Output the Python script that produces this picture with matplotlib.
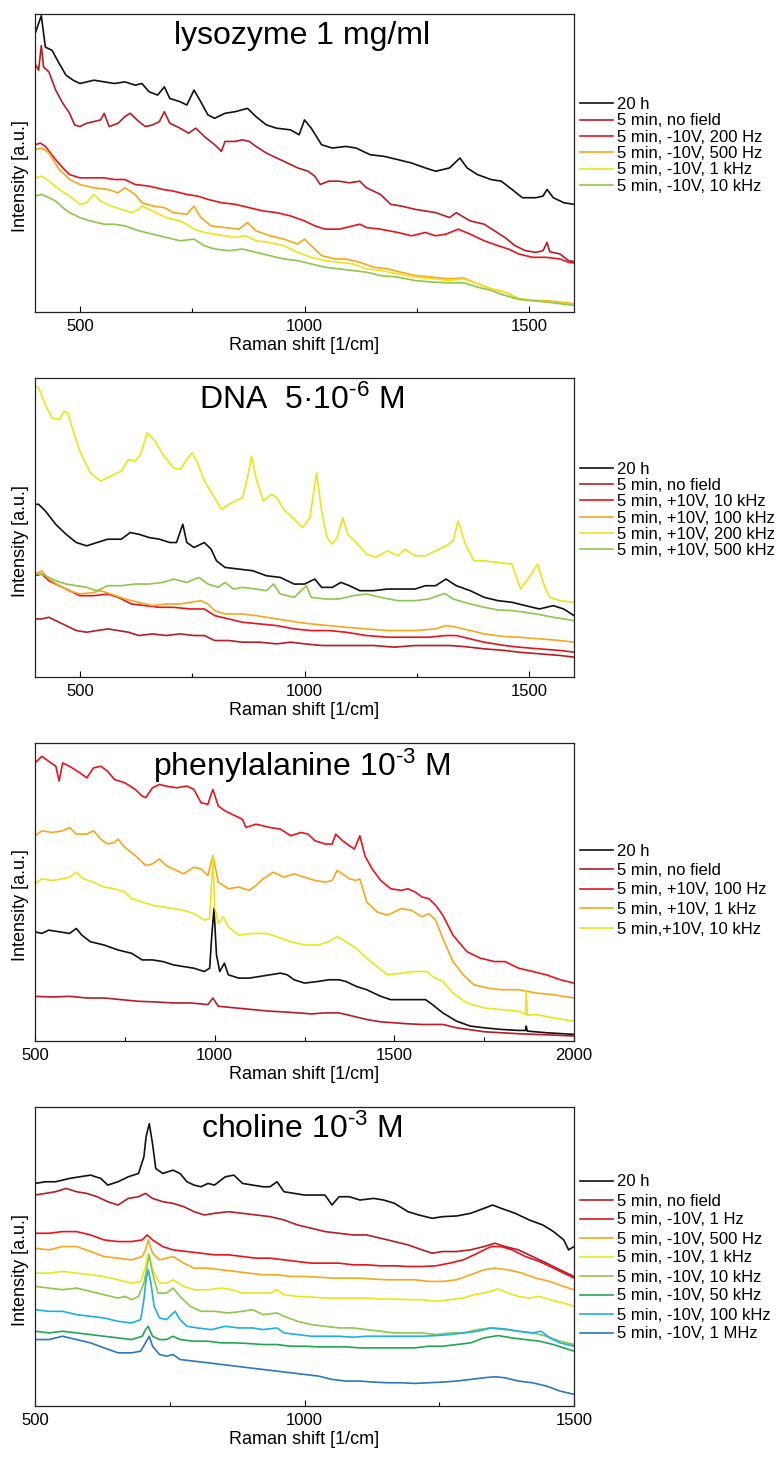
import matplotlib
matplotlib.use("Agg")
import matplotlib.pyplot as plt
from matplotlib.ticker import MultipleLocator

plt.rcParams["font.family"] = ["Liberation Sans", "DejaVu Sans"]
plt.rcParams["mathtext.fontset"] = "custom"
plt.rcParams["mathtext.rm"] = "Liberation Sans"
plt.rcParams["mathtext.default"] = "regular"

# ---------------- lysozyme 1 mg/ml ----------------
lys_x_20h = [400,414,423,438,454,469,485,500,531,554,577,600,623,638,654,673,688,700,723,738,754,769,785,800,823,846,873,892,915,938,969,988,1000,1015,1038,1062,1092,1115,1146,1177,1208,1238,1269,1292,1323,1346,1362,1385,1415,1438,1462,1485,1515,1531,1540,1554,1577,1600]
lys_y_20h = [840,895,800,790,750,715,700,690,700,695,690,695,685,690,665,655,680,645,635,625,670,635,595,585,600,605,615,590,565,555,550,535,580,555,505,495,500,495,475,470,460,450,435,425,435,465,435,415,400,395,370,345,345,350,370,345,330,325]

lys_x_nofield = [400,408,414,419,431,446,462,477,488,500,515,531,546,554,565,585,600,612,631,646,662,677,688,700,723,742,758,777,800,815,823,846,862,877,892,915,938,954,985,1008,1023,1035,1054,1077,1100,1123,1138,1169,1192,1215,1246,1269,1292,1323,1338,1350,1369,1400,1423,1446,1469,1492,1515,1531,1540,1546,1569,1588,1600]
lys_y_nofield = [750,730,805,740,725,670,630,600,565,560,570,575,580,600,560,570,590,600,575,560,565,575,605,570,555,540,555,530,505,485,515,515,520,515,500,480,465,455,435,425,410,385,395,395,390,395,375,355,325,320,310,305,300,285,300,290,275,265,245,225,200,185,180,185,210,182,175,155,152]

lys_x_200hz = [400,412,423,446,462,477,500,531,554,577,600,623,654,685,708,738,762,785,815,846,877,908,938,969,1000,1023,1046,1077,1108,1123,1138,1169,1208,1238,1269,1292,1315,1342,1369,1400,1431,1454,1477,1508,1538,1569,1588,1600]
lys_y_200hz = [505,510,500,460,435,415,405,405,405,400,400,385,380,370,365,355,350,340,330,325,315,305,300,290,275,260,250,250,260,265,255,250,240,230,240,230,235,250,235,215,200,190,175,165,165,160,150,148]

lys_x_500hz = [400,415,431,454,477,500,531,562,585,600,623,638,662,688,708,738,754,769,792,823,854,873,892,923,954,985,1000,1015,1038,1069,1092,1123,1154,1185,1215,1246,1285,1323,1354,1385,1415,1446,1477,1508,1538,1569,1600]
lys_y_500hz = [490,495,480,430,400,385,375,370,360,375,355,330,320,315,300,295,320,285,260,255,250,270,245,230,220,205,220,200,170,160,160,150,135,130,120,110,105,100,103,85,70,60,40,35,34,30,25]

lys_x_1khz = [400,415,431,454,477,500,515,531,546,569,592,615,631,638,654,669,692,708,731,754,777,800,823,846,869,892,923,954,985,1015,1046,1077,1108,1138,1169,1208,1246,1285,1323,1354,1385,1415,1446,1477,1508,1538,1569,1600]
lys_y_1khz = [405,410,395,370,350,325,330,355,335,320,310,300,310,320,310,300,285,280,270,250,240,235,230,225,230,215,210,200,180,165,155,150,145,130,125,115,105,100,95,100,85,70,60,40,35,32,28,22]

lys_x_10khz = [400,415,431,446,462,477,500,523,554,577,600,631,662,692,723,754,777,800,831,862,892,923,954,985,1015,1046,1077,1108,1138,1169,1208,1246,1285,1323,1354,1385,1415,1446,1477,1508,1538,1569,1600]
lys_y_10khz = [350,355,345,335,315,300,285,275,265,265,260,245,235,225,215,220,200,190,185,190,180,170,160,155,145,135,130,125,120,110,105,95,90,88,88,75,65,50,38,34,30,25,20]

# ---------------- DNA 5e-6 M ----------------
dna_x_20h = [400,408,423,446,469,492,515,538,562,592,612,631,654,677,700,715,729,738,754,777,792,804,823,854,885,915,946,977,1000,1023,1038,1062,1081,1100,1123,1154,1185,1215,1246,1269,1292,1315,1338,1369,1400,1431,1462,1492,1523,1554,1577,1600]
dna_y_20h = [520,520,500,460,430,405,395,405,415,415,435,430,420,415,405,405,460,405,390,405,385,350,330,325,320,305,300,280,280,295,270,270,285,275,260,260,265,265,265,275,275,295,275,260,240,230,225,215,205,215,205,185]

dna_x_nofield = [400,415,431,446,469,492,515,538,562,585,608,631,662,692,723,754,777,800,831,862,900,938,969,1000,1038,1077,1115,1154,1200,1246,1292,1323,1354,1400,1446,1477,1523,1569,1600]
dna_y_nofield = [175,175,180,170,155,140,135,140,145,140,135,125,130,125,130,125,125,110,110,105,105,100,105,100,95,95,95,95,90,95,95,95,92,85,80,75,70,65,60]

dna_x_10khz = [400,415,431,454,477,500,531,562,585,615,646,677,708,746,777,800,831,862,900,938,977,1015,1054,1092,1138,1185,1231,1277,1315,1338,1369,1400,1446,1477,1523,1569,1600]
dna_y_10khz = [305,310,290,275,260,245,245,250,240,220,215,210,210,205,205,185,175,165,160,155,145,140,140,135,125,120,120,120,125,125,115,105,95,90,85,80,75]

dna_x_100khz = [400,415,431,454,477,500,531,546,569,600,631,662,692,723,746,769,785,800,823,862,892,938,985,1015,1054,1092,1138,1185,1246,1292,1315,1338,1369,1400,1446,1477,1523,1569,1600]
dna_y_100khz = [310,320,295,275,260,250,255,260,250,235,225,215,220,220,225,230,220,200,190,190,185,175,165,160,155,150,145,140,140,145,155,150,140,130,122,120,115,110,105]

dna_x_200khz = [400,408,423,438,454,465,473,485,500,523,546,569,592,608,623,635,650,665,685,708,723,738,750,762,777,800,815,838,862,873,882,892,908,927,938,954,977,996,1012,1027,1038,1050,1062,1073,1085,1096,1115,1138,1158,1185,1208,1223,1246,1269,1292,1315,1331,1342,1358,1377,1400,1431,1462,1481,1500,1519,1535,1546,1569,1600]
dna_y_200khz = [875,870,820,780,775,800,795,740,680,615,590,605,620,655,650,670,735,715,670,630,625,655,675,645,590,540,505,525,540,600,665,600,530,550,540,505,475,450,480,615,500,420,400,420,480,430,405,370,360,380,365,385,365,365,380,395,410,470,400,350,350,345,340,265,300,340,270,240,230,225]

dna_x_500khz = [400,415,431,446,469,492,515,538,562,592,623,654,685,708,738,765,785,808,823,842,862,892,915,931,946,977,1004,1015,1046,1077,1108,1138,1169,1208,1246,1277,1312,1331,1369,1400,1431,1462,1492,1523,1554,1600]
dna_y_500khz = [310,310,300,290,280,275,270,260,275,275,280,280,285,295,285,300,280,270,285,265,270,265,260,280,250,240,275,240,235,235,245,250,240,230,230,235,252,235,220,210,202,200,195,188,180,170]

# ---------------- phenylalanine 1e-3 M ----------------
phe_x_20h = [500,519,538,567,596,615,630,654,692,731,769,798,827,856,885,913,942,971,986,992,998,1005,1014,1027,1038,1067,1096,1125,1154,1183,1202,1221,1250,1288,1317,1346,1365,1394,1423,1462,1490,1519,1558,1587,1606,1635,1673,1712,1750,1798,1846,1865,1867,1870,1923,2000]
phe_y_20h = [330,325,335,330,325,340,320,300,290,275,265,245,245,240,230,225,220,210,220,320,400,260,210,235,200,190,190,195,200,205,200,185,175,180,185,185,180,165,155,135,125,125,125,125,110,85,60,45,40,35,32,32,45,30,25,20]

phe_x_nofield = [500,548,596,644,692,740,788,837,885,933,981,995,1010,1058,1106,1154,1192,1231,1269,1308,1346,1385,1423,1462,1500,1538,1577,1606,1635,1673,1712,1750,1798,1846,1894,1942,2000]
phe_y_nofield = [135,133,135,130,130,125,120,118,115,115,110,130,105,100,95,90,88,85,82,85,85,75,65,58,55,52,50,50,50,40,34,28,25,22,20,18,15]

phe_x_100hz = [500,519,538,558,567,577,596,625,644,663,683,702,721,750,779,798,808,827,846,865,894,923,942,962,981,995,1010,1029,1048,1077,1087,1115,1154,1183,1212,1240,1260,1279,1308,1327,1337,1356,1375,1389,1404,1418,1438,1462,1490,1519,1538,1558,1577,1596,1615,1635,1663,1702,1740,1779,1808,1846,1885,1923,1962,2000]
phe_y_100hz = [840,860,845,830,785,840,830,810,795,825,830,815,790,780,760,740,735,765,775,770,765,770,760,720,715,760,710,695,685,670,645,655,645,640,620,630,625,605,595,595,625,605,590,580,620,560,520,485,460,455,460,450,435,430,410,380,320,270,250,240,240,220,210,200,185,175]

phe_x_1khz = [500,519,548,577,596,615,644,663,683,702,721,731,750,779,808,827,846,865,894,913,942,962,981,995,1010,1038,1067,1096,1115,1135,1163,1192,1221,1250,1279,1308,1327,1341,1356,1375,1394,1404,1423,1452,1481,1519,1548,1577,1596,1615,1635,1663,1692,1721,1760,1798,1846,1894,1942,2000]
phe_y_1khz = [620,635,630,635,645,625,625,635,610,595,600,610,585,560,530,535,550,530,515,505,525,520,500,560,480,460,465,455,470,490,510,495,505,495,485,480,485,515,505,490,485,490,420,390,380,400,395,375,385,365,310,240,200,170,160,155,155,145,140,130]

phe_x_10khz = [500,519,548,577,596,615,635,663,692,721,750,769,798,827,856,885,913,942,971,986,995,1000,1010,1024,1038,1067,1106,1144,1173,1212,1250,1288,1317,1341,1365,1394,1423,1452,1481,1519,1558,1591,1606,1635,1663,1702,1750,1798,1846,1865,1867,1870,1894,1942,2000]
phe_y_10khz = [475,490,485,490,495,510,490,480,465,460,450,430,420,410,405,400,395,385,365,370,555,405,355,375,345,320,325,325,315,300,290,290,300,315,300,280,250,225,200,205,210,210,195,180,145,115,100,95,90,80,155,78,80,70,60]

# ---------------- choline 1e-3 M ----------------
cho_x_20h = [500,519,538,564,583,603,622,635,654,673,692,702,706,712,718,724,737,756,769,782,795,808,821,833,853,869,885,904,923,936,949,962,981,1000,1019,1038,1051,1064,1083,1103,1128,1147,1167,1192,1212,1237,1256,1282,1308,1333,1349,1365,1391,1417,1442,1462,1481,1490,1500]
cho_y_20h = [670,675,675,685,690,695,685,665,675,690,700,750,810,850,790,715,700,710,700,675,665,660,670,665,690,695,670,665,660,660,675,645,640,635,635,635,605,630,630,620,625,620,610,585,575,565,570,572,580,595,605,595,580,560,545,525,500,470,480]

cho_x_nofield = [500,519,538,558,577,596,615,635,654,673,692,705,718,737,756,776,795,814,833,859,885,910,936,962,987,1013,1038,1064,1090,1115,1141,1167,1192,1218,1237,1256,1282,1308,1333,1353,1372,1397,1423,1449,1474,1500]
cho_y_nofield = [635,640,645,655,645,640,630,615,605,625,630,640,625,615,610,600,585,575,580,585,580,575,570,560,545,535,525,520,515,515,505,495,485,470,460,465,465,470,480,490,480,470,450,430,410,390]

cho_x_1hz = [500,526,551,577,603,628,654,679,699,708,718,737,756,782,808,833,859,885,910,936,962,987,1013,1038,1064,1090,1115,1141,1167,1192,1218,1244,1269,1295,1321,1346,1365,1385,1410,1436,1462,1481,1500]
cho_y_1hz = [520,520,525,525,515,500,495,495,500,515,500,480,470,465,460,455,455,450,445,445,440,435,430,430,430,425,425,422,422,420,420,422,430,440,460,480,480,470,450,435,415,400,385]

cho_x_500hz = [500,526,551,577,603,628,654,679,699,705,710,718,731,744,756,776,795,821,846,872,897,923,949,974,1000,1026,1051,1077,1103,1128,1154,1179,1205,1231,1256,1282,1308,1333,1353,1378,1404,1429,1455,1481,1500]
cho_y_500hz = [475,470,480,480,465,450,445,440,450,470,500,460,440,445,450,430,415,415,410,405,400,395,395,390,390,388,385,385,385,382,380,380,380,375,375,380,395,410,415,410,400,385,375,360,350]

cho_x_1khz = [500,526,551,577,603,628,654,679,696,705,710,718,731,744,756,776,795,821,846,865,885,910,936,949,962,987,1013,1038,1064,1090,1115,1141,1167,1192,1218,1244,1269,1295,1314,1333,1359,1378,1397,1417,1436,1455,1481,1500]
cho_y_1khz = [400,400,405,400,395,390,380,370,375,420,460,410,370,370,380,360,350,350,355,350,340,340,340,350,335,330,328,325,325,325,325,322,322,320,320,315,320,325,335,340,352,340,330,325,330,320,310,300]

cho_x_10khz = [500,526,551,577,603,628,654,667,679,692,702,708,712,718,728,744,756,769,788,808,833,859,885,904,923,949,962,987,1013,1038,1064,1090,1115,1141,1167,1192,1218,1244,1269,1295,1321,1346,1372,1397,1423,1449,1474,1500]
cho_y_10khz = [360,355,350,355,345,335,325,330,320,330,370,420,455,400,340,340,355,330,300,285,285,280,285,290,275,280,270,255,245,240,235,235,230,225,220,220,220,215,220,220,230,235,230,225,220,210,195,185]

cho_x_50khz = [500,526,551,577,603,628,654,679,699,705,710,718,731,744,756,769,795,821,846,872,897,923,949,974,1000,1026,1051,1077,1103,1128,1154,1179,1205,1231,1256,1282,1308,1333,1359,1385,1410,1436,1462,1481,1500]
cho_y_50khz = [225,220,225,220,215,210,205,200,210,230,240,210,200,200,210,200,195,195,190,190,188,185,185,180,180,178,178,178,175,175,175,175,175,180,180,185,190,205,212,205,200,195,185,175,165]

cho_x_100khz = [500,526,551,577,603,628,654,679,696,702,706,710,715,721,731,744,753,760,769,782,801,827,853,878,904,923,949,962,987,1013,1038,1064,1090,1115,1141,1167,1192,1218,1244,1269,1295,1321,1346,1372,1397,1423,1439,1455,1474,1500]
cho_y_100khz = [290,285,285,275,270,265,255,250,260,320,380,410,370,300,265,260,275,285,260,240,235,230,240,235,235,230,235,220,215,210,210,210,207,210,210,210,210,210,212,215,220,225,235,232,225,220,225,205,190,180]

cho_x_1mhz = [500,526,551,577,603,628,654,679,696,705,712,718,731,744,756,769,795,821,846,872,897,923,949,974,1000,1026,1051,1077,1103,1128,1154,1179,1205,1231,1256,1282,1308,1333,1353,1372,1397,1423,1449,1474,1500]
cho_y_1mhz = [200,200,210,200,190,175,160,160,165,190,210,180,155,150,155,140,135,130,125,120,115,110,105,100,95,90,80,75,75,72,70,70,68,70,72,75,80,85,88,85,75,70,60,45,35]

c_black = "#111111"
c_darkred = "#b81c24"
c_red = "#e8141c"
c_orange = "#f6a81c"
c_yellow = "#eee41a"
c_lgreen = "#8cc84a"
c_green = "#1fa850"
c_cyan = "#1cb0e4"
c_blue = "#2a78c0"

panels = [
    {
        "title": "lysozyme 1 mg/ml", "xlim": (400, 1600), "rect": [0.0449, 0.7859, 0.691, 0.2045],
        "legend_y": 145.5, "spacing": 0.08,
        "series": [
            (lys_x_20h, lys_y_20h, c_black, "20 h"),
            (lys_x_nofield, lys_y_nofield, c_darkred, "5 min, no field"),
            (lys_x_200hz, lys_y_200hz, c_red, "5 min, -10V, 200 Hz"),
            (lys_x_500hz, lys_y_500hz, c_orange, "5 min, -10V, 500 Hz"),
            (lys_x_1khz, lys_y_1khz, c_yellow, "5 min, -10V, 1 kHz"),
            (lys_x_10khz, lys_y_10khz, c_lgreen, "5 min, -10V, 10 kHz"),
        ],
    },
    {
        "title": r"DNA  5·10$^{\text{-6}}$ M", "xlim": (400, 1600), "rect": [0.0449, 0.5353, 0.691, 0.2052],
        "legend_y": 510, "spacing": 0.08,
        "series": [
            (dna_x_20h, dna_y_20h, c_black, "20 h"),
            (dna_x_nofield, dna_y_nofield, c_darkred, "5 min, no field"),
            (dna_x_10khz, dna_y_10khz, c_red, "5 min, +10V, 10 kHz"),
            (dna_x_100khz, dna_y_100khz, c_orange, "5 min, +10V, 100 kHz"),
            (dna_x_200khz, dna_y_200khz, c_yellow, "5 min, +10V, 200 kHz"),
            (dna_x_500khz, dna_y_500khz, c_lgreen, "5 min, +10V, 500 kHz"),
        ],
    },
    {
        "title": r"phenylalanine 10$^{\text{-3}}$ M", "xlim": (500, 2000), "rect": [0.0449, 0.2855, 0.691, 0.2045],
        "legend_y": 890, "spacing": 0.27,
        "series": [
            (phe_x_20h, phe_y_20h, c_black, "20 h"),
            (phe_x_nofield, phe_y_nofield, c_darkred, "5 min, no field"),
            (phe_x_100hz, phe_y_100hz, c_red, "5 min, +10V, 100 Hz"),
            (phe_x_1khz, phe_y_1khz, c_orange, "5 min, +10V, 1 kHz"),
            (phe_x_10khz, phe_y_10khz, c_yellow, "5 min,+10V, 10 kHz"),
        ],
    },
    {
        "title": r"choline 10$^{\text{-3}}$ M", "xlim": (500, 1500), "rect": [0.0449, 0.0350, 0.691, 0.2052],
        "legend_y": 1258, "spacing": 0.24,
        "series": [
            (cho_x_20h, cho_y_20h, c_black, "20 h"),
            (cho_x_nofield, cho_y_nofield, c_darkred, "5 min, no field"),
            (cho_x_1hz, cho_y_1hz, c_red, "5 min, -10V, 1 Hz"),
            (cho_x_500hz, cho_y_500hz, c_orange, "5 min, -10V, 500 Hz"),
            (cho_x_1khz, cho_y_1khz, c_yellow, "5 min, -10V, 1 kHz"),
            (cho_x_10khz, cho_y_10khz, c_lgreen, "5 min, -10V, 10 kHz"),
            (cho_x_50khz, cho_y_50khz, c_green, "5 min, -10V, 50 kHz"),
            (cho_x_100khz, cho_y_100khz, c_cyan, "5 min, -10V, 100 kHz"),
            (cho_x_1mhz, cho_y_1mhz, c_blue, "5 min, -10V, 1 MHz"),
        ],
    },
]

fig = plt.figure(figsize=(7.8, 14.57), dpi=100)

for p in panels:
    ax = fig.add_axes(p["rect"])
    for x, y, col, lab in p["series"]:
        ax.plot(x, y, color=col, lw=1.2, label=lab)
    ax.set_xlim(p["xlim"])
    ax.set_ylim(0, 900)
    ax.set_yticks([])
    ax.xaxis.set_major_locator(MultipleLocator(500))
    ax.xaxis.set_minor_locator(MultipleLocator(250))
    ax.tick_params(axis="x", which="major", direction="in", length=4, width=0.8, labelsize=12, pad=5)
    ax.tick_params(axis="x", which="minor", direction="in", length=3, width=0.8)
    for s in ax.spines.values():
        s.set_linewidth(0.9)
        s.set_color("#222222")
    ax.set_xlabel("Raman shift [1/cm]", fontsize=13, labelpad=2)
    ax.set_ylabel("Intensity [a.u.]", fontsize=13)
    ax.yaxis.set_label_coords(-0.012, 0.455)
    ax.text(0.495, 0.925, p["title"], transform=ax.transAxes, ha="center", va="center", fontsize=23)
    ax.legend(loc="center left", bbox_to_anchor=(580 / 780, 1 - p["legend_y"] / 1457),
              bbox_transform=fig.transFigure, frameon=False, fontsize=12,
              handlelength=2.0, handletextpad=0.2, labelspacing=p["spacing"],
              borderpad=0, borderaxespad=0)

fig.savefig("out.png", dpi=100)
